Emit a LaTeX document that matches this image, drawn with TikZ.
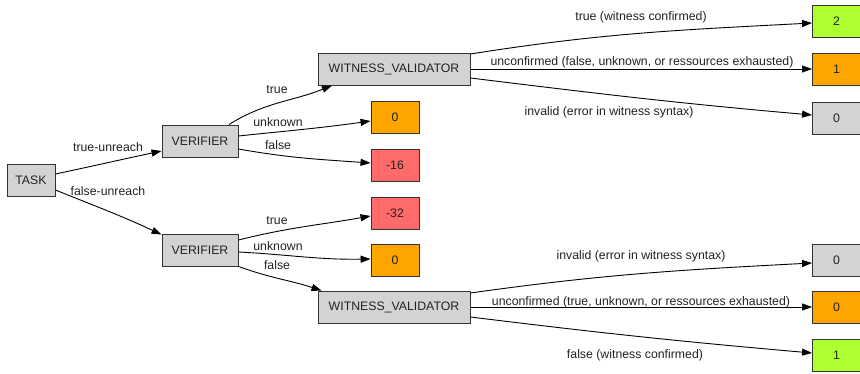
\documentclass[tikz,border=0pt]{standalone}
\usepackage{fontspec}
\setmainfont{Liberation Sans}
\usetikzlibrary{arrows.meta}
\definecolor{gbox}{HTML}{D3D3D3}
\definecolor{obox}{HTML}{FFA500}
\definecolor{rbox}{HTML}{FF6A6A}
\definecolor{ybox}{HTML}{ADFF2F}
\definecolor{ink}{HTML}{222222}
\tikzset{
  box/.style={draw=black!80, line width=0.9pt, rectangle, minimum height=32pt, inner sep=0pt,
              font=\fontsize{12.3}{14}\selectfont, text=ink},
  gray box/.style={box, fill=gbox},
  res/.style={box, minimum width=48pt},
  lbl/.style={font=\fontsize{12.3}{14}\selectfont, text=ink, inner sep=0pt},
  edge/.style={draw=black, line width=0.9pt, -{Triangle[length=10pt,width=7pt]}},
}
\begin{document}
\begin{tikzpicture}[x=1pt,y=-1pt]
\useasboundingbox (0,0) rectangle (860,374);
% nodes
\node[gray box, minimum width=48pt] (task) at (31,180) {TASK};
\node[gray box, minimum width=76pt] (vt) at (200,141) {VERIFIER};
\node[gray box, minimum width=76pt] (vb) at (200,250) {VERIFIER};
\node[gray box, minimum width=152pt] (wvt) at (394,69) {WITNESS\_VALIDATOR};
\node[gray box, minimum width=152pt] (wvb) at (394,307) {WITNESS\_VALIDATOR};
\node[res, fill=obox] (m0a) at (395,117) {0};
\node[res, fill=rbox] (m16) at (395,165) {-16};
\node[res, fill=rbox] (m32) at (395,213) {-32};
\node[res, fill=obox] (m0b) at (395,260) {0};
\node[res, fill=ybox] (r2) at (836.5,21) {2};
\node[res, fill=obox] (r1) at (836.5,69) {1};
\node[res, fill=gbox] (r0) at (836.5,118) {0};
\node[res, fill=gbox] (s0g) at (836.5,260) {0};
\node[res, fill=obox] (s0o) at (836.5,307) {0};
\node[res, fill=ybox] (s1) at (836.5,355) {1};
% edges
\draw[edge] ([yshift=6pt]task.east) to[out=12,in=192] ([yshift=-10pt]vt.west);
\draw[edge] ([yshift=-10pt]task.east) to[out=-22,in=155] ([yshift=-1pt]vb.north west);
\draw[edge] ([xshift=29pt]vt.north) to[out=32,in=202] ([xshift=-62pt]wvt.south);
\draw[edge] ([yshift=5pt]vt.east) to[out=6,in=188] ([yshift=-4pt]m0a.west);
\draw[edge] ([yshift=-8pt]vt.east) to[out=-10,in=176] ([yshift=2pt]m16.west);
\draw[edge] ([yshift=10pt]vb.east) to[out=14,in=190] ([yshift=-3pt]m32.west);
\draw[edge] ([yshift=-2pt]vb.east) to[out=-3,in=181] ([yshift=1pt]m0b.west);
\draw[edge] (vb.south east) to[out=-20,in=162] ([xshift=4pt]wvb.north west);
\draw[edge] ([yshift=15pt]wvt.east) to[out=9,in=183] ([yshift=-2pt]r2.west);
\draw[edge] (wvt.east) -- (r1.west);
\draw[edge] ([yshift=-9pt]wvt.east) to[out=-7,in=175] ([yshift=3pt]r0.west);
\draw[edge] ([yshift=14pt]wvb.east) to[out=8,in=183] ([yshift=-3pt]s0g.west);
\draw[edge] (wvb.east) -- (s0o.west);
\draw[edge] ([yshift=-10pt]wvb.east) to[out=-7,in=175] ([yshift=2pt]s1.west);
% labels
\node[lbl] (l1) at (108,147) {true-unreach};
\node[lbl] (l2) at (108,191) {false-unreach};
\node[lbl] (l3) at (277,90) {true};
\node[lbl] (l4) at (278,122) {unknown};
\node[lbl] (l5) at (278,145) {false};
\node[lbl] (l6) at (277,221) {true};
\node[lbl] (l7) at (278,246) {unknown};
\node[lbl] (l8) at (277,265) {false};
\node[lbl] (l9) at (641,17) {true (witness confirmed)};
\node[lbl] (l10) at (642,62) {unconfirmed (false, unknown, or ressources exhausted)};
\node[lbl] (l11) at (609,112) {invalid (error in witness syntax)};
\node[lbl] (l12) at (641,256) {invalid (error in witness syntax)};
\node[lbl] (l13) at (641,302) {unconfirmed (true, unknown, or ressources exhausted)};
\node[lbl] (l14) at (635,355) {false (witness confirmed)};
\end{tikzpicture}
\end{document}
